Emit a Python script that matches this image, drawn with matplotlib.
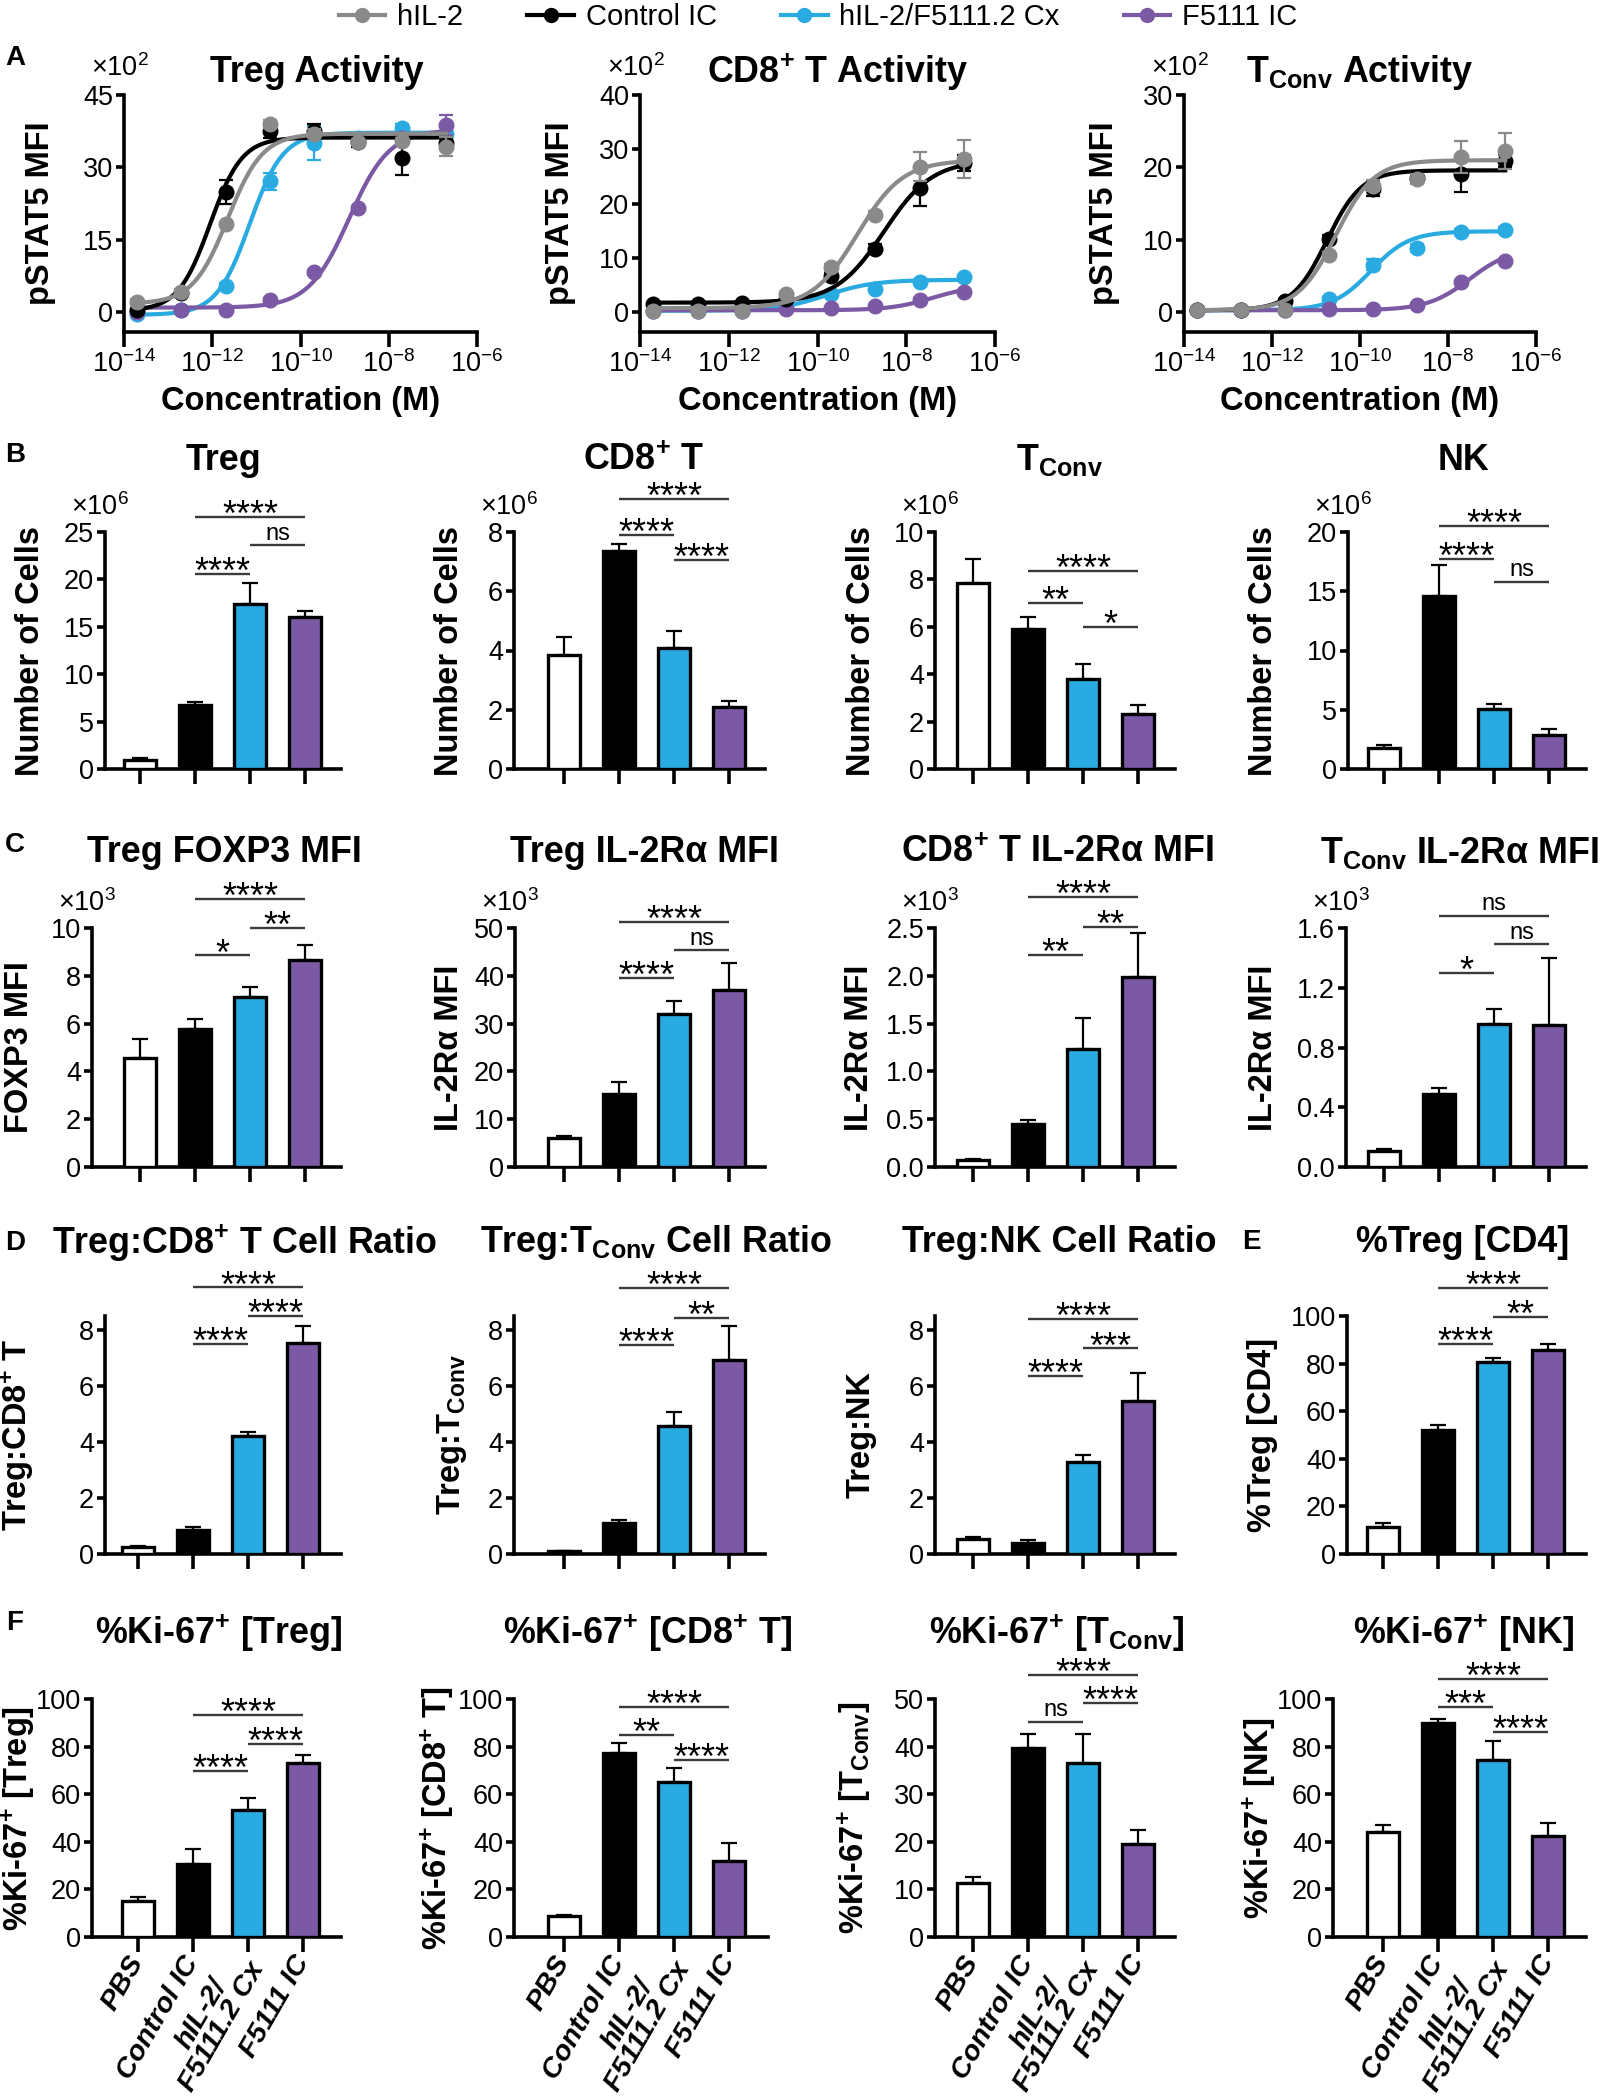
import numpy as np
import matplotlib
matplotlib.use('Agg')
import matplotlib.pyplot as plt
from matplotlib import font_manager
from matplotlib.lines import Line2D
from matplotlib.ticker import NullLocator, FixedLocator, FuncFormatter

# ------------------------------------------------------------------
# fonts
# ------------------------------------------------------------------
_names = {f.name for f in font_manager.fontManager.ttflist}
NARROW = 'Liberation Sans Narrow' if 'Liberation Sans Narrow' in _names else 'Liberation Sans'
plt.rcParams['font.family'] = ['Liberation Sans', 'DejaVu Sans']
plt.rcParams['mathtext.fontset'] = 'custom'
plt.rcParams['mathtext.rm'] = NARROW
plt.rcParams['mathtext.bf'] = 'Liberation Sans:bold'
plt.rcParams['mathtext.it'] = 'Liberation Sans:italic'
plt.rcParams['mathtext.sf'] = 'Liberation Sans'

# ------------------------------------------------------------------
# data
# ------------------------------------------------------------------
SERIES = ['hIL-2', 'Control IC', 'hIL-2/F5111.2 Cx', 'F5111 IC']
LINE_COLORS = ['#8a8a8a', '#000000', '#29abe2', '#7b59a4']
GROUPS = ['PBS', 'Control IC', 'hIL-2/\nF5111.2 Cx', 'F5111 IC']
BAR_COLORS = ['white', 'black', '#29abe2', '#7b59a4']

# panel A: concentration (M) and pSTAT5 MFI (x10^2), rows follow SERIES
CONC = [2e-14, 2e-13, 2e-12, 2e-11, 2e-10, 2e-9, 2e-8, 2e-7]

TREG_PSTAT5 = [[2.2, 4.3, 18.3, 39.0, 37.0, 35.2, 35.4, 34.3],
               [0.5, 4.0, 25.0, 37.5, 37.5, 35.2, 32.0, 35.0],
               [-0.3, 0.5, 5.5, 27.1, 35.0, 36.0, 38.1, 37.0],
               [0.0, 0.5, 0.4, 2.5, 8.3, 21.6, 36.0, 38.8]]
TREG_PSTAT5_SEM = [[0.5, 0.5, 0.5, 0.8, 1.0, 0.6, 0.8, 2.0],
                   [0.3, 0.5, 2.5, 1.5, 1.5, 1.0, 3.5, 1.0],
                   [0.3, 0.3, 0.5, 1.8, 3.5, 1.0, 0.8, 0.5],
                   [0.2, 0.2, 0.3, 0.5, 0.5, 0.5, 0.5, 2.0]]
# four-parameter fits: bottom, top, logEC50, hill
TREG_FIT = [(1.8, 37.0, -11.65, 1.1), (0.3, 36.2, -12.05, 1.2),
            (-0.5, 37.2, -11.15, 1.15), (1.0, 37.8, -8.9, 0.95)]

CD8_PSTAT5 = [[0.3, 0.3, 0.3, 3.3, 8.3, 18.0, 26.8, 28.2],
              [1.5, 1.6, 1.7, 2.5, 6.7, 11.7, 22.8, 27.5],
              [0.3, 0.3, 0.3, 1.0, 3.3, 4.4, 5.6, 6.5],
              [0.2, 0.3, 0.3, 0.6, 0.8, 1.1, 2.3, 3.8]]
CD8_PSTAT5_SEM = [[0.3, 0.3, 0.3, 0.5, 0.7, 0.6, 2.7, 3.5],
                  [0.3, 0.3, 0.3, 0.5, 0.5, 0.8, 3.2, 1.5],
                  [0.2, 0.2, 0.2, 0.2, 0.3, 0.3, 0.3, 0.4],
                  [0.2, 0.2, 0.2, 0.2, 0.2, 0.2, 0.3, 0.3]]
CD8_FIT = [(0.8, 28.0, -9.1, 0.85), (1.8, 28.0, -8.5, 0.8),
           (0.3, 6.0, -9.8, 0.8), (0.4, 5.0, -7.4, 0.9)]

TCONV_PSTAT5 = [[0.3, 0.3, 0.3, 7.9, 17.5, 18.4, 21.5, 22.3],
                [0.3, 0.3, 1.6, 10.2, 17.0, 18.6, 19.1, 20.9],
                [0.3, 0.3, 0.3, 1.8, 6.6, 8.9, 11.1, 11.4],
                [0.3, 0.3, 0.3, 0.5, 0.5, 1.0, 4.2, 7.1]]
TCONV_PSTAT5_SEM = [[0.2, 0.2, 0.2, 0.5, 0.8, 0.7, 2.2, 2.5],
                    [0.2, 0.2, 0.3, 0.5, 1.0, 0.7, 2.5, 0.8],
                    [0.2, 0.2, 0.2, 0.3, 0.8, 0.5, 0.4, 0.4],
                    [0.2, 0.2, 0.2, 0.2, 0.2, 0.3, 0.3, 0.3]]
TCONV_FIT = [(0.3, 21.0, -10.55, 1.0), (0.3, 19.6, -10.75, 1.1),
             (0.3, 11.2, -9.75, 1.0), (0.3, 9.0, -7.5, 0.9)]

# bar panels: mean, SEM, significance (group i, group j, bracket height, label)
B_TREG = [1.0, 6.7, 17.4, 16.0]
B_TREG_ERR = [0.15, 0.4, 2.2, 0.7]
B_TREG_SIG = [(1, 3, 26.6, '****'), (2, 3, 23.6, 'ns'), (1, 2, 20.6, '****')]
B_CD8 = [3.85, 7.35, 4.1, 2.08]
B_CD8_ERR = [0.6, 0.25, 0.55, 0.2]
B_CD8_SIG = [(1, 3, 9.1, '****'), (1, 2, 7.9, '****'), (2, 3, 7.06, '****')]
B_TCONV = [7.85, 5.9, 3.8, 2.3]
B_TCONV_ERR = [1.0, 0.5, 0.65, 0.38]
B_TCONV_SIG = [(1, 3, 8.34, '****'), (1, 2, 7.0, '**'), (2, 3, 6.01, '*')]
B_NK = [1.77, 14.6, 5.1, 2.9]
B_NK_ERR = [0.23, 2.6, 0.4, 0.5]
B_NK_SIG = [(1, 3, 20.5, '****'), (1, 2, 17.7, '****'), (2, 3, 15.8, 'ns')]

C_FOXP3 = [4.57, 5.76, 7.13, 8.67]
C_FOXP3_ERR = [0.8, 0.45, 0.42, 0.63]
C_FOXP3_SIG = [(1, 3, 11.2, '****'), (2, 3, 10.0, '**'), (1, 2, 8.85, '*')]
C_TREG_IL2RA = [6.0, 15.3, 32.0, 37.1]
C_TREG_IL2RA_ERR = [0.4, 2.4, 2.7, 5.5]
C_TREG_IL2RA_SIG = [(1, 3, 51.3, '****'), (2, 3, 45.3, 'ns'), (1, 2, 39.5, '****')]
C_CD8_IL2RA = [0.077, 0.45, 1.23, 1.99]
C_CD8_IL2RA_ERR = [0.011, 0.04, 0.33, 0.46]
C_CD8_IL2RA_SIG = [(1, 3, 2.82, '****'), (2, 3, 2.51, '**'), (1, 2, 2.22, '**')]
C_TCONV_IL2RA = [0.106, 0.49, 0.96, 0.95]
C_TCONV_IL2RA_ERR = [0.014, 0.04, 0.10, 0.45]
C_TCONV_IL2RA_SIG = [(1, 3, 1.68, 'ns'), (2, 3, 1.49, 'ns'), (1, 2, 1.30, '*')]

D_TREG_CD8 = [0.24, 0.86, 4.22, 7.52]
D_TREG_CD8_ERR = [0.06, 0.1, 0.13, 0.62]
D_TREG_CD8_SIG = [(1, 3, 9.52, '****'), (2, 3, 8.5, '****'), (1, 2, 7.49, '****')]
D_TREG_TCONV = [0.1, 1.1, 4.57, 6.93]
D_TREG_TCONV_ERR = [0.02, 0.13, 0.5, 1.22]
D_TREG_TCONV_SIG = [(1, 3, 9.49, '****'), (2, 3, 8.44, '**'), (1, 2, 7.46, '****')]
D_TREG_NK = [0.53, 0.41, 3.29, 5.47]
D_TREG_NK_ERR = [0.09, 0.09, 0.24, 1.01]
D_TREG_NK_SIG = [(1, 3, 8.4, '****'), (2, 3, 7.34, '***'), (1, 2, 6.36, '****')]
E_PCT_TREG = [11.5, 51.9, 80.6, 85.6]
E_PCT_TREG_ERR = [1.4, 2.1, 1.9, 2.5]
E_PCT_TREG_SIG = [(1, 3, 111.8, '****'), (2, 3, 99.6, '**'), (1, 2, 88.1, '****')]

F_KI67_TREG = [15.3, 30.8, 53.5, 73.1]
F_KI67_TREG_ERR = [1.5, 6.2, 4.9, 3.5]
F_KI67_TREG_SIG = [(1, 3, 93.4, '****'), (2, 3, 81.2, '****'), (1, 2, 69.6, '****')]
F_KI67_CD8 = [8.7, 77.2, 65.3, 32.0]
F_KI67_CD8_ERR = [0.7, 4.3, 5.6, 7.3]
F_KI67_CD8_SIG = [(1, 3, 96.6, '****'), (1, 2, 84.7, '**'), (2, 3, 74.2, '****')]
F_KI67_TCONV = [11.4, 39.8, 36.5, 19.5]
F_KI67_TCONV_ERR = [1.2, 2.8, 6.1, 2.9]
F_KI67_TCONV_SIG = [(1, 3, 55.0, '****'), (2, 3, 49.1, '****'), (1, 2, 45.2, 'ns')]
F_KI67_NK = [44.2, 89.9, 74.2, 42.6]
F_KI67_NK_ERR = [2.8, 1.7, 8.0, 5.2]
F_KI67_NK_SIG = [(1, 3, 108.4, '****'), (1, 2, 96.5, '***'), (2, 3, 86.0, '****')]

# ------------------------------------------------------------------
# layout helpers (figure pixels)
# ------------------------------------------------------------------
W, H = 1604, 2100
SPINE_LW = 2.6
TICK_FS = 19.5
TITLE_FS = 25.8
YLAB_FS = 23.5
CONV = r'T$_{\mathbf{Conv}}$'
PLUS = r'$^{\mathbf{+}}$'

fig = plt.figure(figsize=(W / 100, H / 100), dpi=100)


def px_rect(x0, x1, ytop, ybot):
    return [x0 / W, 1 - ybot / H, (x1 - x0) / W, (ybot - ytop) / H]


def fx(x):
    return x / W


def fy(y):
    return 1 - y / H


def style(ax):
    for s in ('top', 'right'):
        ax.spines[s].set_visible(False)
    for s in ('left', 'bottom'):
        ax.spines[s].set_linewidth(SPINE_LW)
    ax.tick_params(axis='both', direction='out', width=SPINE_LW,
                   labelsize=TICK_FS, labelfontfamily=NARROW, pad=2)
    ax.tick_params(axis='y', length=6)
    ax.tick_params(axis='x', length=11)
    ax.patch.set_alpha(0)


def ylab(ax, text, dx, width_px):
    ax.text(dx / width_px, 0.5, text, transform=ax.transAxes, rotation=90,
            ha='center', va='center', fontsize=YLAB_FS, fontweight='bold')


# ------------------------------------------------------------------
# row A: dose response
# ------------------------------------------------------------------
A_TOP, A_BOT = 95, 332
dose_panels = [
    ('Treg Activity', TREG_PSTAT5, TREG_PSTAT5_SEM, TREG_FIT, 45, [0, 15, 30, 45]),
    ('CD8' + PLUS + ' T Activity', CD8_PSTAT5, CD8_PSTAT5_SEM, CD8_FIT, 40, [0, 10, 20, 30, 40]),
    (CONV + ' Activity', TCONV_PSTAT5, TCONV_PSTAT5_SEM, TCONV_FIT, 30, [0, 10, 20, 30]),
]
a_layout = [(124, 477, -83, 16), (640, 995, -79, 20), (1184, 1536, -80, 0)]
draw_order = [2, 3, 1, 0]
xs = np.logspace(np.log10(CONC[0]), np.log10(CONC[-1]), 300)

for (title, vals, sems, fits, ymax, yt), (x0, x1, dx, tdx) in zip(dose_panels, a_layout):
    ax = fig.add_axes(px_rect(x0, x1, A_TOP, A_BOT))
    style(ax)
    ax.set_xscale('log')
    for z, k in enumerate(draw_order):
        b, t, ec, h = fits[k]
        curve = b + (t - b) / (1 + 10 ** ((ec - np.log10(xs)) * h))
        ax.plot(xs, curve, color=LINE_COLORS[k], lw=3, zorder=2 + z)
        ax.errorbar(CONC, vals[k], yerr=sems[k], fmt='o', color=LINE_COLORS[k],
                    ms=10.5, capsize=5, elinewidth=1.6, capthick=1.6, zorder=2 + z)
    ax.set_xlim(1e-14, 1e-6)
    ax.set_ylim(-0.09 * ymax, ymax)
    ax.xaxis.set_major_locator(FixedLocator([1e-14, 1e-12, 1e-10, 1e-8, 1e-6]))
    ax.xaxis.set_minor_locator(NullLocator())
    ax.xaxis.set_major_formatter(FuncFormatter(
        lambda v, p: r'10$^{\mathrm{%d}}$' % round(np.log10(v))))
    ax.set_yticks(yt)
    ax.set_xlabel('Concentration (M)', fontsize=23.5, fontweight='bold', labelpad=6)
    ylab(ax, 'pSTAT5 MFI', dx, x1 - x0)
    fig.text(fx((x0 + x1) / 2 + tdx), fy(72), title, ha='center', va='center',
             fontsize=TITLE_FS, fontweight='bold')
    fig.text(fx(x0 - 4), fy(68), r'×10$^{\mathrm{2}}$', ha='center', va='center',
             fontsize=TICK_FS, family=NARROW)

handles = [Line2D([], [], color=c, lw=3, marker='o', ms=10) for c in LINE_COLORS]
fig.legend(handles, SERIES, loc='center', bbox_to_anchor=(fx(818), fy(17)), ncol=4,
           frameon=False, fontsize=21, handlelength=1.6, handletextpad=0.4,
           columnspacing=2.2, borderaxespad=0)

# ------------------------------------------------------------------
# rows B-F: bar charts
# ------------------------------------------------------------------
SPACING = 55.0

bar_rows = [
    # (top px, bottom px, title y px, panels)
    # panel layout: (y-axis x, first bar centre x, x-axis end x, y-label offset, title offset)
    (532, 769, 460, [
        ('Treg', 'Number of Cells', B_TREG, B_TREG_ERR, B_TREG_SIG, 25, [0, 5, 10, 15, 20, 25], 6, '%d', (105, 140, 341, -74, 0)),
        ('CD8' + PLUS + ' T', 'Number of Cells', B_CD8, B_CD8_ERR, B_CD8_SIG, 8, [0, 2, 4, 6, 8], 6, '%d', (514, 564, 765, -64, 4)),
        (CONV, 'Number of Cells', B_TCONV, B_TCONV_ERR, B_TCONV_SIG, 10, [0, 2, 4, 6, 8, 10], 6, '%d', (935, 973, 1175, -74, 4)),
        ('NK', 'Number of Cells', B_NK, B_NK_ERR, B_NK_SIG, 20, [0, 5, 10, 15, 20], 6, '%d', (1348, 1384, 1586, -84, -4)),
    ]),
    (928, 1167, 853, [
        ('Treg FOXP3 MFI', 'FOXP3 MFI', C_FOXP3, C_FOXP3_ERR, C_FOXP3_SIG, 10, [0, 2, 4, 6, 8, 10], 3, '%d', (92, 140, 341, -72, 8)),
        ('Treg IL-2Rα MFI', 'IL-2Rα MFI', C_TREG_IL2RA, C_TREG_IL2RA_ERR, C_TREG_IL2RA_SIG, 50, [0, 10, 20, 30, 40, 50], 3, '%d', (515, 564, 765, -66, 4)),
        ('CD8' + PLUS + ' T IL-2Rα MFI', 'IL-2Rα MFI', C_CD8_IL2RA, C_CD8_IL2RA_ERR, C_CD8_IL2RA_SIG, 2.5, [0, 0.5, 1.0, 1.5, 2.0, 2.5], 3, '%.1f', (935, 973, 1175, -76, 2)),
        (CONV + ' IL-2Rα MFI', 'IL-2Rα MFI', C_TCONV_IL2RA, C_TCONV_IL2RA_ERR, C_TCONV_IL2RA_SIG, 1.6, [0, 0.4, 0.8, 1.2, 1.6], 3, '%.1f', (1346, 1384, 1586, -82, -6)),
    ]),
    (1316, 1554, 1243, [
        ('Treg:CD8' + PLUS + ' T Cell Ratio', 'Treg:CD8' + PLUS + ' T', D_TREG_CD8, D_TREG_CD8_ERR, D_TREG_CD8_SIG, 8.5, [0, 2, 4, 6, 8], None, '%d', (105, 138, 341, -88, 22)),
        ('Treg:' + CONV + ' Cell Ratio', 'Treg:' + CONV, D_TREG_TCONV, D_TREG_TCONV_ERR, D_TREG_TCONV_SIG, 8.5, [0, 2, 4, 6, 8], None, '%d', (514, 564, 765, -62, 16)),
        ('Treg:NK Cell Ratio', 'Treg:NK', D_TREG_NK, D_TREG_NK_ERR, D_TREG_NK_SIG, 8.5, [0, 2, 4, 6, 8], None, '%d', (935, 973, 1175, -74, 4)),
        ('%Treg [CD4]', '%Treg [CD4]', E_PCT_TREG, E_PCT_TREG_ERR, E_PCT_TREG_SIG, 100, [0, 20, 40, 60, 80, 100], None, '%d', (1347, 1383, 1586, -85, -4)),
    ]),
    (1699, 1937, 1633, [
        ('%Ki-67' + PLUS + ' [Treg]', '%Ki-67' + PLUS + ' [Treg]', F_KI67_TREG, F_KI67_TREG_ERR, F_KI67_TREG_SIG, 100, [0, 20, 40, 60, 80, 100], None, '%d', (92, 138, 341, -74, 2)),
        ('%Ki-67' + PLUS + ' [CD8' + PLUS + ' T]', '%Ki-67' + PLUS + ' [CD8' + PLUS + ' T]', F_KI67_CD8, F_KI67_CD8_ERR, F_KI67_CD8_SIG, 100, [0, 20, 40, 60, 80, 100], None, '%d', (514, 564, 768, -77, 7)),
        ('%Ki-67' + PLUS + ' [' + CONV + ']', '%Ki-67' + PLUS + ' [' + CONV + ']', F_KI67_TCONV, F_KI67_TCONV_ERR, F_KI67_TCONV_SIG, 50, [0, 10, 20, 30, 40, 50], None, '%d', (935, 973, 1175, -81, 2)),
        ('%Ki-67' + PLUS + ' [NK]', '%Ki-67' + PLUS + ' [NK]', F_KI67_NK, F_KI67_NK_ERR, F_KI67_NK_SIG, 100, [0, 20, 40, 60, 80, 100], None, '%d', (1333, 1383, 1586, -74, 4)),
    ]),
]

pos = np.arange(4)
for r, (ytop, ybot, ty, panels) in enumerate(bar_rows):
    last_row = r == len(bar_rows) - 1
    for (title, ylabel, vals, errs, sig, ymax, yt, sci, fmt, lay) in panels:
        x0, c0, x1, dx, tdx = lay
        ax = fig.add_axes(px_rect(x0, x1, ytop, ybot))
        style(ax)
        ax.bar(pos, vals, width=0.58, color=BAR_COLORS, edgecolor='black',
               linewidth=2.4, zorder=3)
        ax.errorbar(pos, vals, yerr=[[0] * 4, errs], fmt='none', ecolor='black',
                    elinewidth=1.6, capsize=6, capthick=1.6, zorder=2)
        left = -(c0 - x0) / SPACING
        right = left + (x1 - x0) / SPACING
        ax.set_xlim(left, right)
        ax.set_ylim(0, ymax)
        ax.set_yticks(yt)
        ax.yaxis.set_major_formatter(FuncFormatter(lambda v, p, f=fmt: f % v))
        ax.set_xticks(pos)
        if last_row:
            ax.set_xticklabels(GROUPS, rotation=60, ha='right', va='center',
                               rotation_mode='anchor', fontsize=20.5,
                               fontweight='bold', fontstyle='italic',
                               family='Liberation Sans', multialignment='center',
                               linespacing=0.9)
            ax.tick_params(axis='x', pad=4)
        else:
            ax.set_xticklabels([])
        for i, j, y, txt in sig:
            ax.plot([i, j], [y, y], color='#3a3a3a', lw=1.7, clip_on=False,
                    solid_capstyle='butt', zorder=4)
            if txt == 'ns':
                ax.annotate(txt, ((i + j) / 2, y), xytext=(0, 4),
                            textcoords='offset points', ha='center',
                            va='baseline', fontsize=17, family=NARROW,
                            annotation_clip=False)
            else:
                ax.annotate(txt, ((i + j) / 2, y), xytext=(0, -6.5),
                            textcoords='offset points', ha='center',
                            va='baseline', fontsize=26, annotation_clip=False)
        ylab(ax, ylabel, dx, x1 - x0)
        fig.text(fx((x0 + x1) / 2 + tdx), fy(ty), title, ha='center', va='center',
                 fontsize=TITLE_FS, fontweight='bold')
        if sci is not None:
            fig.text(fx(x0 - 5), fy(ytop - 25), r'×10$^{\mathrm{%d}}$' % sci,
                     ha='center', va='center', fontsize=TICK_FS, family=NARROW)

# panel letters
for letter, x, y in [('A', 15, 58), ('B', 15, 455), ('C', 15, 845),
                     ('D', 15, 1243), ('E', 1251, 1242), ('F', 15, 1623)]:
    fig.text(fx(x), fy(y), letter, ha='center', va='center', fontsize=20,
             fontweight='bold')

fig.savefig('out.png', dpi=100)
